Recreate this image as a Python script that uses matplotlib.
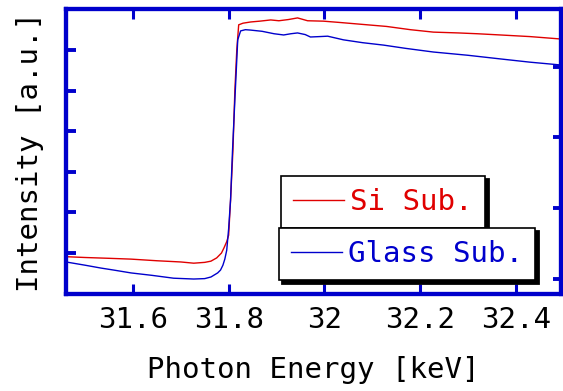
import numpy as np
from matplotlib import pyplot as plt

# Si substrate (red)
si_energy = [31.46, 31.50, 31.55, 31.596, 31.65, 31.70, 31.727, 31.75, 31.763, 31.775,
             31.785, 31.790, 31.796, 31.800, 31.804, 31.809, 31.813, 31.817, 31.821,
             31.830, 31.846, 31.865, 31.888, 31.905, 31.925, 31.944, 31.965, 31.998,
             32.03, 32.06, 32.090, 32.13, 32.18, 32.228, 32.28, 32.32, 32.368, 32.43, 32.495]
si_intensity = [0.91, 0.89, 0.87, 0.85, 0.81, 0.78, 0.75, 0.77, 0.80, 0.88,
                1.00, 1.12, 1.28, 1.44, 2.30, 3.54, 5.00, 6.00, 6.62,
                6.66, 6.69, 6.71, 6.74, 6.72, 6.75, 6.79, 6.72, 6.71,
                6.68, 6.65, 6.62, 6.58, 6.50, 6.44, 6.42, 6.40, 6.37, 6.33, 6.27]

# Glass substrate (blue)
gl_energy = [31.46, 31.50, 31.533, 31.56, 31.596, 31.64, 31.685, 31.727, 31.750, 31.763,
             31.777, 31.783, 31.788, 31.792, 31.796, 31.800, 31.804, 31.808, 31.813,
             31.819, 31.825, 31.835, 31.846, 31.870, 31.895, 31.915, 31.930, 31.944,
             31.960, 31.971, 31.990, 32.007, 32.040, 32.08, 32.124, 32.17, 32.228,
             32.30, 32.368, 32.43, 32.495]
gl_intensity = [0.78, 0.70, 0.63, 0.58, 0.51, 0.45, 0.38, 0.36, 0.37, 0.41,
                0.51, 0.58, 0.70, 0.85, 1.07, 1.60, 2.31, 3.50, 4.77,
                6.25, 6.47, 6.50, 6.49, 6.46, 6.40, 6.37, 6.40, 6.42,
                6.38, 6.32, 6.33, 6.34, 6.25, 6.18, 6.12, 6.04, 5.95,
                5.87, 5.78, 5.70, 5.63]

labels = ['Si Sub.', 'Glass Sub.']
xticks = [31.6, 31.8, 32.0, 32.2, 32.4]
xticklabels = ['31.6', '31.8', '32', '32.2', '32.4']

FRAME = '#0000cc'
RED = '#e00000'
BLUE = '#0000cc'
FONT = 'DejaVu Sans Mono'
FS = 21

if __name__ == '__main__':
    fig = plt.figure(figsize=(5.63, 3.91), dpi=100)
    ax = fig.add_axes([0.1172, 0.249, 0.8795, 0.727])
    ax2 = ax.twinx()

    line_si, = ax.plot(si_energy, si_intensity, color=RED, lw=1.0)
    line_gl, = ax.plot(gl_energy, gl_intensity, color=BLUE, lw=1.0)

    ax.set_xlim(31.46, 32.495)
    ax.set_ylim(0, 7)
    ax.set_yticks([1, 2, 3, 4, 5, 6])
    ax.set_yticklabels([])
    ax.set_xticks(xticks)
    ax.set_xticklabels(xticklabels, fontfamily=FONT, fontsize=FS)
    ax.tick_params(axis='x', direction='in', top=True, length=7, width=2.2,
                   color=FRAME, pad=9)
    ax.tick_params(axis='y', direction='in', length=7.5, width=2.8, color=FRAME)

    ax2.set_ylim(-0.21, 3.81)
    ax2.set_yticks([0, 1, 2, 3])
    ax2.set_yticklabels([])
    ax2.tick_params(axis='y', direction='in', length=6, width=2.8, color=FRAME)

    for a in (ax, ax2):
        for s in a.spines.values():
            s.set_color(FRAME)
            s.set_linewidth(3.0)

    ax.set_xlabel('Photon Energy [keV]', fontfamily=FONT, fontsize=FS, labelpad=16)
    ax.set_ylabel('Intensity [a.u.]', fontfamily=FONT, fontsize=FS, labelpad=12)

    leg_kw = dict(prop={'family': FONT, 'size': FS}, frameon=True,
                  fancybox=False, borderaxespad=0,
                  shadow={'color': 'black', 'alpha': 1.0, 'linewidth': 2.0},
                  handlelength=1.75, handletextpad=0.2, borderpad=0.42,
                  loc='upper left', bbox_transform=fig.transFigure)
    leg1 = ax2.legend([line_si], [labels[0]], bbox_to_anchor=(0.499, 0.550), **leg_kw)
    leg1.get_texts()[0].set_color(RED)
    ax2.add_artist(leg1)
    leg2 = ax2.legend([line_gl], [labels[1]], bbox_to_anchor=(0.4956, 0.417), **leg_kw)
    leg2.get_texts()[0].set_color(BLUE)
    for leg in (leg1, leg2):
        f = leg.get_frame()
        f.set_edgecolor('black')
        f.set_linewidth(1.2)
        f.set_alpha(1.0)

    plt.savefig('out.png', dpi=100)
    plt.close()
